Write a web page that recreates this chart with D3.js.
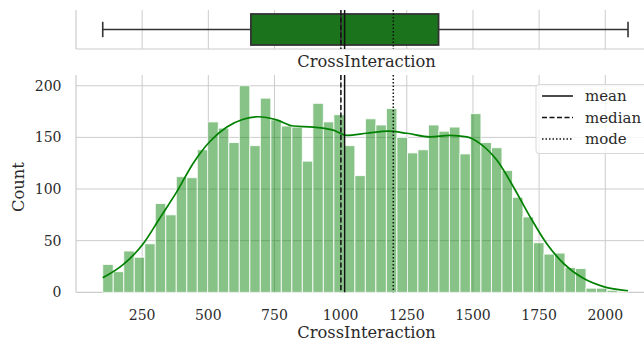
<!DOCTYPE html>
<html>
<head>
<meta charset="utf-8">
<script src="https://cdn.jsdelivr.net/npm/d3@7"></script>
<style>
  body { margin: 0; background: #fff; }
  text { font-family: "DejaVu Serif", serif; fill: #2a2a2a; }
</style>
</head>
<body>
<div id="chart"></div>
<script>
// histogram counts, 50 bins between the data min and max
var counts = [27, 20, 40, 34, 47, 86, 75, 112, 111, 138,
              165, 159, 145, 200, 142, 188, 167, 161, 160, 127,
              183, 165, 172, 142, 113, 168, 162, 178, 150, 135,
              138, 162, 156, 160, 134, 173, 145, 140, 118, 92,
              73, 48, 37, 38, 24, 23, 4, 4, 2, 1];
var dataMin = 101, dataMax = 2086;

// kde curve
var kdeX = [101, 179, 254, 317, 380, 443, 506, 570, 632, 689, 758, 821, 897, 972, 1023,
            1099, 1181, 1250, 1338, 1413, 1477, 1527, 1590, 1653, 1716, 1779, 1842, 1917, 1993, 2086];
var kdeY = [14, 27, 47, 72, 97, 125, 146, 160, 167.5, 170, 167, 161, 160, 157, 152,
            154, 156, 154, 150.5, 152, 150.5, 144, 128, 102, 73, 47, 28, 13.5, 5.5, 1.5];

// box plot stats
var boxStats = {min: 101, q1: 661, median: 1001, q3: 1370, max: 2086};
var refLines = [
  {name: "mean", value: 1015, dash: null},
  {name: "median", value: 1001, dash: "5,2.5"},
  {name: "mode", value: 1199, dash: "1.5,2"}
];

var xTicks = [250, 500, 750, 1000, 1250, 1500, 1750, 2000];
var yTicks = [0, 50, 100, 150, 200];

var width = 644, height = 345;
var svg = d3.select("#chart").append("svg")
    .attr("width", width)
    .attr("height", height);

var xScale = d3.scaleLinear().domain([0, 2200]).range([76, 658.2]);
var yScale = d3.scaleLinear().domain([0, 210.4]).range([292.3, 75]);

var gridColor = "#cccccc";

// ---- box plot panel ----
var boxTop = 10, boxBottom = 49;
var bp = svg.append("g");

bp.selectAll("line.vgrid")
    .data(xTicks)
    .enter().append("line")
    .attr("x1", function(d) { return xScale(d); })
    .attr("x2", function(d) { return xScale(d); })
    .attr("y1", boxTop).attr("y2", boxBottom)
    .attr("stroke", gridColor).attr("stroke-width", 1);

bp.append("line").attr("x1", 76).attr("x2", 76).attr("y1", boxTop).attr("y2", boxBottom)
    .attr("stroke", gridColor).attr("stroke-width", 1.2);
bp.append("line").attr("x1", 76).attr("x2", width).attr("y1", boxBottom).attr("y2", boxBottom)
    .attr("stroke", gridColor).attr("stroke-width", 1.2);

var boxColor = "#1b731b", edge = "#333333";
var bMid = 29.5;
bp.append("line")
    .attr("x1", xScale(boxStats.min)).attr("x2", xScale(boxStats.q1))
    .attr("y1", bMid).attr("y2", bMid)
    .attr("stroke", edge).attr("stroke-width", 1.6);
bp.append("line")
    .attr("x1", xScale(boxStats.q3)).attr("x2", xScale(boxStats.max))
    .attr("y1", bMid).attr("y2", bMid)
    .attr("stroke", edge).attr("stroke-width", 1.6);
[boxStats.min, boxStats.max].forEach(function(v) {
  bp.append("line")
      .attr("x1", xScale(v)).attr("x2", xScale(v))
      .attr("y1", 21.8).attr("y2", 37.2)
      .attr("stroke", edge).attr("stroke-width", 1.6);
});
bp.append("rect")
    .attr("x", xScale(boxStats.q1))
    .attr("y", 14)
    .attr("width", xScale(boxStats.q3) - xScale(boxStats.q1))
    .attr("height", 31)
    .attr("fill", boxColor)
    .attr("stroke", edge).attr("stroke-width", 1.8);
bp.append("line")
    .attr("x1", xScale(boxStats.median)).attr("x2", xScale(boxStats.median))
    .attr("y1", 14).attr("y2", 45)
    .attr("stroke", edge).attr("stroke-width", 1.8);

bp.selectAll("line.ref")
    .data(refLines)
    .enter().append("line")
    .attr("x1", function(d) { return xScale(d.value); })
    .attr("x2", function(d) { return xScale(d.value); })
    .attr("y1", boxTop).attr("y2", boxBottom)
    .attr("stroke", "#111").attr("stroke-width", 1.5)
    .attr("stroke-dasharray", function(d) { return d.dash; });

bp.append("text")
    .attr("x", 366.5).attr("y", 67)
    .attr("text-anchor", "middle")
    .style("font-size", "16.3px")
    .text("CrossInteraction");

// ---- histogram panel ----
var g = svg.append("g");

g.selectAll("line.hgrid")
    .data(yTicks.slice(1))
    .enter().append("line")
    .attr("x1", 76).attr("x2", width)
    .attr("y1", function(d) { return yScale(d); })
    .attr("y2", function(d) { return yScale(d); })
    .attr("stroke", gridColor).attr("stroke-width", 1);

g.selectAll("line.vgrid")
    .data(xTicks)
    .enter().append("line")
    .attr("x1", function(d) { return xScale(d); })
    .attr("x2", function(d) { return xScale(d); })
    .attr("y1", 75).attr("y2", yScale(0))
    .attr("stroke", gridColor).attr("stroke-width", 1);

g.append("line").attr("x1", 76).attr("x2", 76).attr("y1", 75).attr("y2", yScale(0))
    .attr("stroke", gridColor).attr("stroke-width", 1.2);
g.append("line").attr("x1", 76).attr("x2", width).attr("y1", yScale(0)).attr("y2", yScale(0))
    .attr("stroke", gridColor).attr("stroke-width", 1.2);

var binW = (dataMax - dataMin) / counts.length;
g.selectAll("rect.bar")
    .data(counts)
    .enter().append("rect")
    .attr("x", function(d, i) { return xScale(dataMin + i * binW); })
    .attr("y", function(d) { return yScale(d); })
    .attr("width", xScale(binW) - xScale(0))
    .attr("height", function(d) { return yScale(0) - yScale(d); })
    .attr("fill", "green")
    .attr("fill-opacity", 0.47)
    .attr("stroke", "#ffffff")
    .attr("stroke-opacity", 0.85)
    .attr("stroke-width", 1);

var kdeLine = d3.line()
    .x(function(d, i) { return xScale(kdeX[i]); })
    .y(function(d) { return yScale(d); })
    .curve(d3.curveMonotoneX);

g.append("path")
    .attr("d", kdeLine(kdeY))
    .attr("fill", "none")
    .attr("stroke", "green")
    .attr("stroke-width", 1.7);

g.selectAll("line.ref")
    .data(refLines)
    .enter().append("line")
    .attr("x1", function(d) { return xScale(d.value); })
    .attr("x2", function(d) { return xScale(d.value); })
    .attr("y1", 75).attr("y2", yScale(0))
    .attr("stroke", "#111").attr("stroke-width", 1.5)
    .attr("stroke-dasharray", function(d) { return d.dash; });

// tick labels
g.selectAll("text.ytick")
    .data(yTicks)
    .enter().append("text")
    .attr("x", 61.5)
    .attr("y", function(d) { return yScale(d); })
    .attr("dy", "0.35em")
    .attr("text-anchor", "end")
    .style("font-size", "14px")
    .text(function(d) { return d; });

g.selectAll("text.xtick")
    .data(xTicks)
    .enter().append("text")
    .attr("x", function(d) { return xScale(d); })
    .attr("y", 319.5)
    .attr("text-anchor", "middle")
    .style("font-size", "14px")
    .text(function(d) { return d; });

g.append("text")
    .attr("x", 366.5).attr("y", 337.5)
    .attr("text-anchor", "middle")
    .style("font-size", "16.3px")
    .text("CrossInteraction");

g.append("text")
    .attr("transform", "translate(24," + 187 + ") rotate(-90)")
    .attr("text-anchor", "middle")
    .style("font-size", "16.3px")
    .text("Count");

// legend
var lg = svg.append("g");
lg.append("rect")
    .attr("x", 536).attr("y", 84.5)
    .attr("width", 130).attr("height", 69)
    .attr("rx", 3)
    .attr("fill", "#fff").attr("fill-opacity", 0.8)
    .attr("stroke", "#d8d8d8").attr("stroke-width", 1);

var rows = lg.selectAll("g.row")
    .data(refLines)
    .enter().append("g")
    .attr("transform", function(d, i) { return "translate(0," + (96 + i * 21.5) + ")"; });
rows.append("line")
    .attr("x1", 542).attr("x2", 573)
    .attr("y1", 0).attr("y2", 0)
    .attr("stroke", "#111").attr("stroke-width", 1.5)
    .attr("stroke-dasharray", function(d) { return d.dash; });
rows.append("text")
    .attr("x", 585).attr("y", 0)
    .attr("dy", "0.35em")
    .style("font-size", "15px")
    .text(function(d) { return d.name; });
</script>
</body>
</html>
